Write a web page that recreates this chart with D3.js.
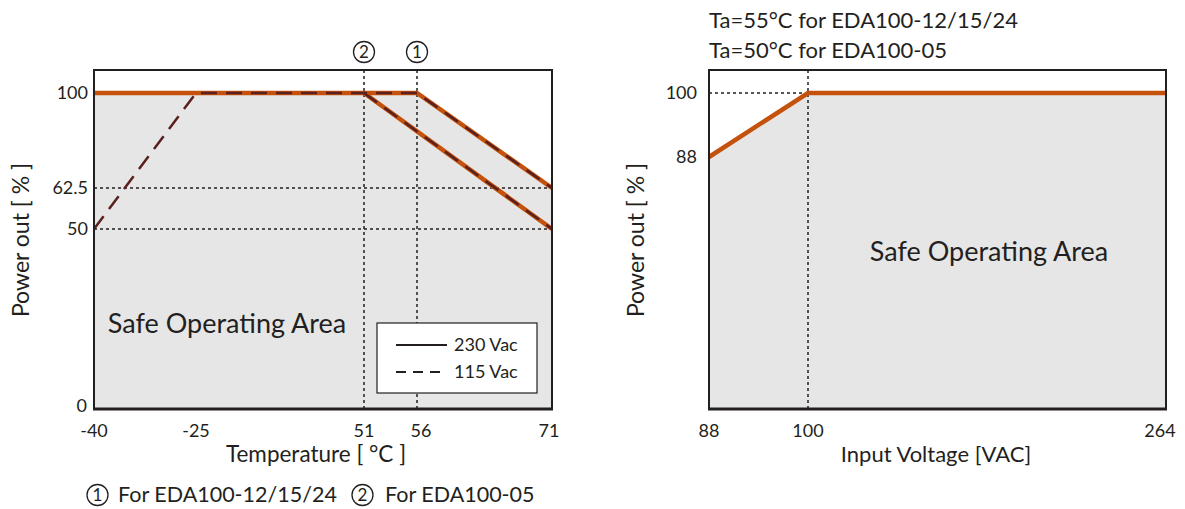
<!DOCTYPE html>
<html>
<head>
<meta charset="utf-8">
<script src="https://cdn.jsdelivr.net/npm/d3@7"></script>
<style>
  body { margin: 0; background: #fff; }
  text { font-family: Lato, "Open Sans", sans-serif; fill: #231f20; }
</style>
</head>
<body>
<div id="chart"></div>
<script>
// left chart: derating vs temperature
const tempTicks = [-40, -25, 51, 56, 71];
const powerTicks = [0, 50, 62.5, 100];
const gridPower = [62.5, 50];
const gridTemp = [51, 56];
const safeArea = [[-40, 0], [-40, 100], [56, 100], [71, 62.5], [71, 0]];
const vac230 = [
  [[-40, 100], [56, 100], [71, 62.5]],
  [[51, 100], [71, 50]]
];
const vac115 = [
  [[-40, 50], [-25, 100], [56, 100], [71, 62.5]],
  [[51, 100], [71, 50]]
];

// right chart: derating vs input voltage
const voltTicks = [88, 100, 264];
const voltPowerTicks = [88, 100];
const voltLine = [[88, 88], [100, 100], [264, 100]];

const orange = "#c4520c";
const brown = "#5a1f1f";

const svg = d3.select("#chart")
  .append("svg")
  .attr("width", 1185)
  .attr("height", 509);

const plotTop = 70, plotBottom = 409;

function circled(g, cx, cy, digit) {
  g.append("circle")
    .attr("cx", cx).attr("cy", cy).attr("r", 10.5)
    .attr("fill", "none").attr("stroke", "#231f20").attr("stroke-width", 1.3);
  g.append("text")
    .attr("x", cx).attr("y", cy + 6)
    .attr("text-anchor", "middle")
    .attr("font-size", 17)
    .text(digit);
}

// ---------- left ----------
const x1 = d3.scaleLinear().domain(tempTicks).range([94, 196, 364, 417, 552]);
const y1 = d3.scaleLinear().domain(powerTicks).range([plotBottom, 229, 188, 93]);
const line1 = d3.line().x(d => x1(d[0])).y(d => y1(d[1]));

const left = svg.append("g");

left.append("path")
  .attr("d", line1(safeArea) + "Z")
  .attr("fill", "#e6e6e6");

left.selectAll(".hgrid")
  .data(gridPower)
  .enter()
  .append("line")
  .attr("x1", x1(-40)).attr("x2", x1(71))
  .attr("y1", d => y1(d)).attr("y2", d => y1(d))
  .attr("stroke", "#231f20").attr("stroke-width", 1.5)
  .attr("stroke-dasharray", "3,3");

left.selectAll(".vgrid")
  .data(gridTemp)
  .enter()
  .append("line")
  .attr("x1", d => x1(d)).attr("x2", d => x1(d))
  .attr("y1", plotTop).attr("y2", plotBottom)
  .attr("stroke", "#231f20").attr("stroke-width", 1.5)
  .attr("stroke-dasharray", "3,3");

left.selectAll(".l230")
  .data(vac230)
  .enter()
  .append("path")
  .attr("d", line1)
  .attr("fill", "none")
  .attr("stroke", orange)
  .attr("stroke-width", 4.5);

left.selectAll(".l115")
  .data(vac115)
  .enter()
  .append("path")
  .attr("d", line1)
  .attr("fill", "none")
  .attr("stroke", brown)
  .attr("stroke-width", 2.5)
  .attr("stroke-dasharray", "16,9");

left.append("rect")
  .attr("x", 94).attr("y", plotTop)
  .attr("width", 552 - 94).attr("height", plotBottom - plotTop)
  .attr("fill", "none").attr("stroke", "#231f20").attr("stroke-width", 2);
left.append("line")
  .attr("x1", 93).attr("x2", 553).attr("y1", plotBottom).attr("y2", plotBottom)
  .attr("stroke", "#231f20").attr("stroke-width", 3);

// legend
const lg = left.append("g");
lg.append("rect")
  .attr("x", 377).attr("y", 323).attr("width", 160).attr("height", 70)
  .attr("fill", "#fff").attr("stroke", "#231f20").attr("stroke-width", 1.2);
lg.append("line")
  .attr("x1", 396).attr("x2", 447).attr("y1", 345).attr("y2", 345)
  .attr("stroke", "#231f20").attr("stroke-width", 1.8);
lg.append("line")
  .attr("x1", 396).attr("x2", 447).attr("y1", 372).attr("y2", 372)
  .attr("stroke", "#231f20").attr("stroke-width", 1.8)
  .attr("stroke-dasharray", "10,7");
lg.append("text").attr("x", 454).attr("y", 351).attr("font-size", 18).text("230 Vac");
lg.append("text").attr("x", 454).attr("y", 378).attr("font-size", 18).text("115 Vac");

left.selectAll(".ylab")
  .data(powerTicks)
  .enter()
  .append("text")
  .attr("x", d => d === 0 ? 87 : 88)
  .attr("y", d => y1(d) + (d === 0 ? 3 : 6))
  .attr("text-anchor", "end")
  .attr("font-size", 18)
  .text(d => d);

left.selectAll(".xlab")
  .data(tempTicks)
  .enter()
  .append("text")
  .attr("x", d => x1(d) + (d === 56 ? 4 : d === 71 ? -3 : 0))
  .attr("y", 437)
  .attr("text-anchor", "middle")
  .attr("font-size", 18)
  .text(d => d);

left.append("text")
  .attr("x", 316).attr("y", 462)
  .attr("text-anchor", "middle").attr("font-size", 22.5)
  .text("Temperature [ °C ]");

left.append("text")
  .attr("transform", "translate(29,240) rotate(-90)")
  .attr("text-anchor", "middle").attr("font-size", 23)
  .text("Power out [ % ]");

left.append("text")
  .attr("x", 227).attr("y", 333)
  .attr("text-anchor", "middle").attr("font-size", 27)
  .text("Safe Operating Area");

circled(left, x1(51), 52, "2");
circled(left, x1(56), 52, "1");

circled(left, 97.5, 495, "1");
left.append("text").attr("x", 118).attr("y", 502).attr("font-size", 21.5).text("For EDA100-12/15/24");
circled(left, 362.5, 495, "2");
left.append("text").attr("x", 385).attr("y", 502).attr("font-size", 21.5).text("For EDA100-05");

// ---------- right ----------
const x2 = d3.scaleLinear().domain(voltTicks).range([709, 808, 1166]);
const y2 = d3.scaleLinear().domain(voltPowerTicks).range([157, 93]);
const line2 = d3.line().x(d => x2(d[0])).y(d => y2(d[1]));

const right = svg.append("g");

right.append("path")
  .attr("d", line2(voltLine) + `L${x2(264)},${plotBottom}L${x2(88)},${plotBottom}Z`)
  .attr("fill", "#e6e6e6");

right.append("line")
  .attr("x1", x2(88)).attr("x2", x2(100))
  .attr("y1", y2(100)).attr("y2", y2(100))
  .attr("stroke", "#231f20").attr("stroke-width", 1.5)
  .attr("stroke-dasharray", "3,3");
right.append("line")
  .attr("x1", x2(100)).attr("x2", x2(100))
  .attr("y1", plotTop).attr("y2", plotBottom)
  .attr("stroke", "#231f20").attr("stroke-width", 1.5)
  .attr("stroke-dasharray", "3,3");

right.append("path")
  .attr("d", line2(voltLine))
  .attr("fill", "none")
  .attr("stroke", orange)
  .attr("stroke-width", 4.5);

right.append("rect")
  .attr("x", 709).attr("y", plotTop)
  .attr("width", 1166 - 709).attr("height", plotBottom - plotTop)
  .attr("fill", "none").attr("stroke", "#231f20").attr("stroke-width", 2);
right.append("line")
  .attr("x1", 708).attr("x2", 1167).attr("y1", plotBottom).attr("y2", plotBottom)
  .attr("stroke", "#231f20").attr("stroke-width", 3);

right.selectAll(".ylab")
  .data(voltPowerTicks)
  .enter()
  .append("text")
  .attr("x", 697)
  .attr("y", d => y2(d) + 6)
  .attr("text-anchor", "end")
  .attr("font-size", 18)
  .text(d => d);

right.selectAll(".xlab")
  .data(voltTicks)
  .enter()
  .append("text")
  .attr("x", d => x2(d) + (d === 264 ? -6 : 0))
  .attr("y", 437)
  .attr("text-anchor", "middle")
  .attr("font-size", 18)
  .text(d => d);

right.append("text")
  .attr("x", 936).attr("y", 462)
  .attr("text-anchor", "middle").attr("font-size", 22)
  .text("Input Voltage [VAC]");

right.append("text")
  .attr("transform", "translate(644,240) rotate(-90)")
  .attr("text-anchor", "middle").attr("font-size", 23)
  .text("Power out [ % ]");

right.append("text")
  .attr("x", 989).attr("y", 261)
  .attr("text-anchor", "middle").attr("font-size", 27)
  .text("Safe Operating Area");

right.append("text").attr("x", 709).attr("y", 28).attr("font-size", 22).text("Ta=55°C for EDA100-12/15/24");
right.append("text").attr("x", 709).attr("y", 58).attr("font-size", 22).text("Ta=50°C for EDA100-05");
</script>
</body>
</html>
